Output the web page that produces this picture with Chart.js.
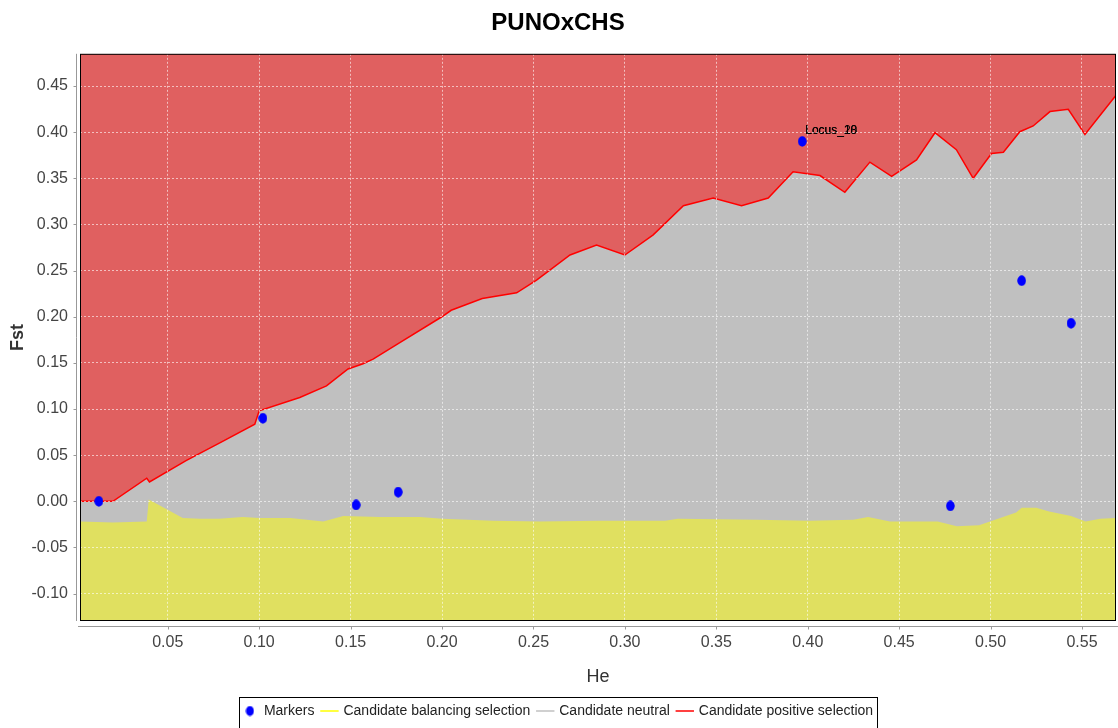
<!DOCTYPE html>
<html>
<head>
<meta charset="utf-8">
<title>PUNOxCHS</title>
<script src="https://cdn.jsdelivr.net/npm/chart.js@4.4.1/dist/chart.umd.min.js"></script>
<style>
  html, body { margin: 0; padding: 0; background: #fff; }
  #wrap { width: 1118px; height: 728px; }
</style>
</head>
<body>
<div id="wrap"><canvas id="chart" width="1118" height="728"></canvas></div>
<script>
// upper boundary (candidate positive selection above it)
const upperHe = [0.002, 0.020, 0.0385, 0.040, 0.060, 0.080, 0.0976, 0.100, 0.1222, 0.1368, 0.1486, 0.1568, 0.1623, 0.1769, 0.1997, 0.205, 0.222, 0.2408, 0.2517, 0.270, 0.2845, 0.300, 0.3155, 0.332, 0.3483, 0.3638, 0.3784, 0.392, 0.4067, 0.4203, 0.434, 0.4459, 0.4595, 0.4696, 0.4813, 0.4905, 0.5005, 0.507, 0.516, 0.5233, 0.5325, 0.5425, 0.5516, 0.5686];
const upperFst = [0.000, 0.000, 0.025, 0.021, 0.044, 0.065, 0.0835, 0.098, 0.1125, 0.125, 0.1434, 0.149, 0.154, 0.172, 0.1997, 0.207, 0.2197, 0.2259, 0.2397, 0.2669, 0.2778, 0.2669, 0.2887, 0.3203, 0.3286, 0.3203, 0.3286, 0.357, 0.353, 0.3348, 0.3675, 0.3522, 0.370, 0.3994, 0.381, 0.350, 0.3769, 0.3783, 0.4005, 0.4067, 0.4223, 0.4248, 0.3976, 0.440];

// lower boundary (candidate balancing selection below it)
const lowerHe = [0.002, 0.020, 0.0385, 0.0396, 0.0582, 0.0675, 0.078, 0.091, 0.100, 0.117, 0.135, 0.146, 0.166, 0.188, 0.200, 0.228, 0.2535, 0.286, 0.322, 0.329, 0.372, 0.401, 0.425, 0.433, 0.445, 0.471, 0.4816, 0.4937, 0.4997, 0.514, 0.517, 0.525, 0.532, 0.544, 0.552, 0.560, 0.5686];
const lowerFst = [-0.022, -0.023, -0.022, 0.002, -0.018, -0.019, -0.019, -0.017, -0.018, -0.018, -0.022, -0.016, -0.017, -0.017, -0.019, -0.021, -0.022, -0.021, -0.021, -0.019, -0.020, -0.021, -0.020, -0.017, -0.022, -0.022, -0.027, -0.026, -0.022, -0.012, -0.007, -0.007, -0.011, -0.016, -0.022, -0.019, -0.018];

// loci
const markerHe = [0.0123, 0.102, 0.153, 0.176, 0.397, 0.478, 0.517, 0.544];
const markerFst = [0.000, 0.090, -0.004, 0.010, 0.390, -0.005, 0.239, 0.193];
const markerLabelIndex = 4;
const markerLabels = ["Locus_20", "Locus_18"];

const xTicks = [0.05, 0.10, 0.15, 0.20, 0.25, 0.30, 0.35, 0.40, 0.45, 0.50, 0.55];
const yTicks = [-0.10, -0.05, 0.00, 0.05, 0.10, 0.15, 0.20, 0.25, 0.30, 0.35, 0.40, 0.45];

const seriesNames = ["Markers", "Candidate balancing selection", "Candidate neutral", "Candidate positive selection"];
const legendLineColors = ["#0000ff", "#ffff00", "#c0c0c0", "#ff0000"];

const FONT = "'Liberation Sans Narrow', 'Liberation Sans', Arial, sans-serif";

const toPoints = (xs, ys) => xs.map((x, i) => ({ x: x, y: ys[i] }));

// small blue dot used for markers and their legend entry
const dot = document.createElement("canvas");
dot.width = 9;
dot.height = 11;
const dctx = dot.getContext("2d");
dctx.fillStyle = "#0000ff";
dctx.beginPath();
dctx.ellipse(4.5, 5.5, 4, 5, 0, 0, Math.PI * 2);
dctx.fill();

const framePlugin = {
  id: "frame",
  afterDatasetsDraw(chart) {
    const ctx = chart.ctx;
    const pt = chart.getDatasetMeta(0).data[markerLabelIndex];
    ctx.save();
    ctx.font = "12px " + FONT;
    ctx.fillStyle = "#000";
    ctx.textBaseline = "alphabetic";
    markerLabels.forEach((txt) => ctx.fillText(txt, pt.x + 3, pt.y - 7));
    ctx.restore();
  },
  afterDraw(chart) {
    const ctx = chart.ctx;
    const a = chart.chartArea;
    const xs = chart.scales.x;
    const ys = chart.scales.y;
    // markers again so the grid does not cross them
    ctx.save();
    ctx.beginPath();
    ctx.rect(a.left, a.top, a.right - a.left, a.bottom - a.top);
    ctx.clip();
    chart.getDatasetMeta(0).controller.draw();
    ctx.restore();

    ctx.save();
    // plot outline
    ctx.strokeStyle = "#000";
    ctx.lineWidth = 1;
    ctx.strokeRect(a.left + 0.5, a.top + 0.5, a.right - a.left - 1, a.bottom - a.top - 1);
    // offset axis lines
    const axX = a.left - 3.5;
    const axY = a.bottom + 5.5;
    ctx.strokeStyle = "#999";
    ctx.beginPath();
    ctx.moveTo(axX, a.top);
    ctx.lineTo(axX, a.bottom);
    ctx.moveTo(a.left - 2, axY);
    ctx.lineTo(chart.width, axY);
    yTicks.forEach((v) => {
      const p = Math.round(ys.getPixelForValue(v)) + 0.5;
      ctx.moveTo(axX - 3, p);
      ctx.lineTo(axX, p);
    });
    xTicks.forEach((v) => {
      const p = Math.round(xs.getPixelForValue(v)) + 0.5;
      ctx.moveTo(p, axY);
      ctx.lineTo(p, axY + 3);
    });
    ctx.stroke();
    // legend box
    const boxes = chart.legend.legendHitBoxes;
    if (boxes && boxes.length) {
      const l = Math.min(...boxes.map((b) => b.left)) - 4;
      const r = Math.max(...boxes.map((b) => b.left + b.width)) + 4;
      const t = boxes[0].top - 7;
      ctx.strokeStyle = "#000";
      ctx.strokeRect(Math.round(l) + 0.5, Math.round(t) + 0.5, Math.round(r - l), 60);
    }
    ctx.restore();
  }
};

const ctx = document.getElementById("chart");

new Chart(ctx, {
  type: "line",
  data: {
    datasets: [
      {
        type: "scatter",
        label: seriesNames[0],
        data: toPoints(markerHe, markerFst),
        pointStyle: dot,
        pointRadius: 5,
        borderColor: "#0000ff",
        backgroundColor: "#0000ff",
        order: 0
      },
      {
        label: seriesNames[1],
        data: toPoints(lowerHe, lowerFst),
        borderColor: "#e0e060",
        borderWidth: 0,
        backgroundColor: "#e0e060",
        fill: "start",
        pointRadius: 0,
        pointStyle: "line",
        tension: 0,
        order: 2
      },
      {
        label: seriesNames[2],
        data: toPoints(upperHe, upperFst),
        borderColor: "#c0c0c0",
        borderWidth: 0,
        backgroundColor: "#c0c0c0",
        fill: "start",
        pointRadius: 0,
        pointStyle: "line",
        tension: 0,
        order: 3
      },
      {
        label: seriesNames[3],
        data: toPoints(upperHe, upperFst),
        borderColor: "#ff0000",
        borderWidth: 1.5,
        backgroundColor: "#e06060",
        fill: "end",
        pointRadius: 0,
        pointStyle: "line",
        tension: 0,
        order: 1
      }
    ]
  },
  options: {
    responsive: false,
    animation: false,
    layout: { autoPadding: false, padding: { left: 0, right: 2, top: 0, bottom: 0 } },
    plugins: {
      title: {
        display: true,
        text: "PUNOxCHS",
        color: "#000",
        font: { family: FONT, size: 24, weight: "bold" },
        padding: { top: 9, bottom: 16 }
      },
      legend: {
        position: "bottom",
        labels: {
          usePointStyle: true,
          boxWidth: 18,
          boxHeight: 13,
          padding: 8,
          color: "#222",
          font: { family: FONT, size: 14 },
          sort: (a, b) => a.datasetIndex - b.datasetIndex,
          generateLabels: (chart) =>
            Chart.defaults.plugins.legend.labels.generateLabels(chart).map((item) => ({
              ...item,
              lineWidth: 1.5,
              strokeStyle: legendLineColors[item.datasetIndex]
            }))
        }
      },
      tooltip: { enabled: false }
    },
    scales: {
      x: {
        type: "linear",
        min: 0.002,
        max: 0.5686,
        afterBuildTicks: (axis) => { axis.ticks = xTicks.map((v) => ({ value: v })); },
        afterFit: (axis) => { axis.height = 75; },
        ticks: {
          padding: 12,
          color: "#444",
          font: { family: FONT, size: 16 },
          maxRotation: 0,
          callback: (v) => Number(v).toFixed(2)
        },
        grid: {
          z: 1,
          drawTicks: false,
          color: "rgba(255,255,255,0.6)",
          lineWidth: 1
        },
        border: { display: false, dash: [2, 2] },
        title: {
          display: true,
          text: "He",
          color: "#333",
          font: { family: FONT, size: 18 },
          padding: { top: 4, bottom: 8 }
        }
      },
      y: {
        type: "linear",
        min: -0.1297,
        max: 0.4849,
        afterBuildTicks: (axis) => { axis.ticks = yTicks.map((v) => ({ value: v })); },
        afterFit: (axis) => { axis.width = 80; },
        ticks: {
          padding: 12,
          color: "#444",
          font: { family: FONT, size: 16 },
          callback: (v) => Number(v).toFixed(2)
        },
        grid: {
          z: 1,
          drawTicks: false,
          color: "rgba(255,255,255,0.6)",
          lineWidth: 1
        },
        border: { display: false, dash: [2, 2] },
        title: {
          display: true,
          text: "Fst",
          color: "#333",
          font: { family: FONT, size: 18, weight: "bold" },
          padding: { top: 7, bottom: 0 }
        }
      }
    }
  },
  plugins: [framePlugin]
});
</script>
</body>
</html>
